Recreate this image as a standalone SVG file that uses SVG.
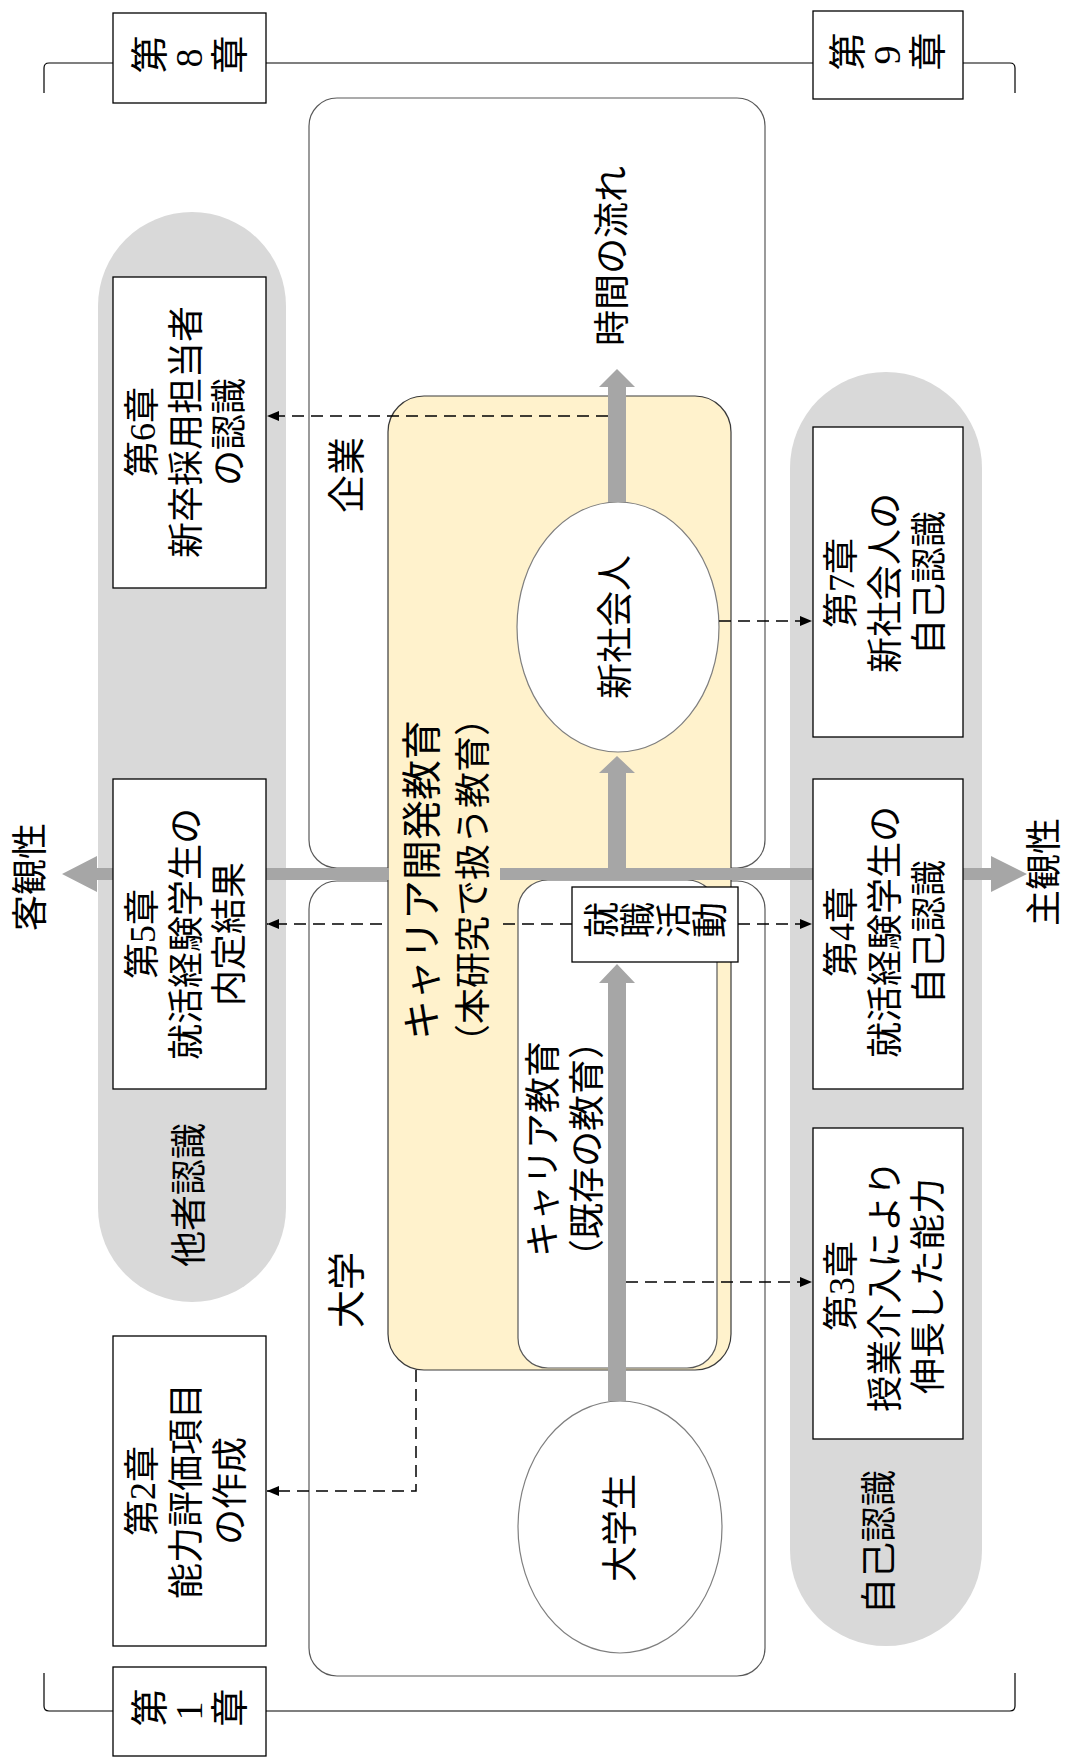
<svg xmlns="http://www.w3.org/2000/svg" width="1068" height="1757" viewBox="0 0 1068 1757">
<defs>
<style>
.t{font-family:"Liberation Serif","Noto Sans CJK JP",serif;font-size:36px;fill:#000}
.r{text-anchor:middle;dominant-baseline:central}
.v{writing-mode:vertical-rl;text-orientation:upright;text-anchor:middle}
.pill{fill:#D9D9D9}
.box{fill:#fff;stroke:#000;stroke-width:1.3}
.area{fill:#fff;stroke:#595959;stroke-width:1.2}
.yel{fill:#FFF2CC;stroke:#3a3a3a;stroke-width:1.2}
.ell{fill:#fff;stroke:#7f7f7f;stroke-width:1.2}
.gray{fill:#A6A6A6}
.dash{fill:none;stroke:#000;stroke-width:1.5;stroke-dasharray:12 7}
.brk{fill:none;stroke:#000;stroke-width:1.2}
</style>
<marker id="ah" markerUnits="userSpaceOnUse" markerWidth="12" markerHeight="10" refX="12" refY="5" orient="auto">
<path d="M0,0 L12,5 L0,10 Z" fill="#000"/>
</marker>
</defs>
<rect width="1068" height="1757" fill="#fff"/>

<g id="brackets">
<path class="brk" d="M44,93 L44,68 Q44,63 49,63 L1010,63 Q1015,63 1015,68 L1015,93"/>
<path class="brk" d="M44,1673 L44,1706 Q44,1711 49,1711 L1010,1711 Q1015,1711 1015,1706 L1015,1673"/>
</g>

<g id="other-recognition">
<rect class="pill" x="98" y="212" width="188" height="1090" rx="94"/>
<text class="t r" transform="translate(190,1195) rotate(-90)">他者認識</text>
</g>
<g id="self-recognition">
<rect class="pill" x="790" y="372" width="192" height="1274" rx="96"/>
<text class="t r" transform="translate(880,1542) rotate(-90)">自己認識</text>
</g>

<g id="company">
<rect class="area" x="309" y="98" width="456" height="770" rx="28"/>
<text class="t r" style="font-size:38px" transform="translate(347,475) rotate(-90)">企業</text>
</g>
<g id="university">
<rect class="area" x="309" y="881" width="456" height="795" rx="28"/>
<text class="t r" style="font-size:38px" transform="translate(347,1290) rotate(-90)">大学</text>
</g>

<g id="career-dev-education">
<rect class="yel" x="388" y="396" width="343" height="974" rx="36"/>
</g>
<g id="career-education">
<rect class="area" x="518" y="880" width="199" height="488" rx="30" stroke="#404040"/>
<text class="t r" transform="translate(566,1149) rotate(-90)"><tspan x="0" y="-22">キャリア教育</tspan><tspan x="0" y="22">（既存の教育）</tspan></text>
</g>

<g id="new-employee">
<ellipse class="ell" cx="618" cy="627" rx="101" ry="125"/>
<text class="t r" transform="translate(616,627) rotate(-90)">新社会人</text>
</g>
<g id="student">
<ellipse class="ell" cx="620" cy="1527" rx="102" ry="126"/>
<text class="t r" transform="translate(621,1528) rotate(-90)">大学生</text>
</g>

<g id="flows">
<polygon class="gray" points="62,874 97,856 97,868 991,868 991,856 1027,874 991,892 991,880 97,880 97,892"/>
<polygon class="gray" points="617,756 635,773 626,773 626,868 608,868 608,773 599,773"/>
<polygon class="gray" points="617,369 635,387 626,387 626,502 608,502 608,387 599,387"/>
<polygon class="gray" points="617,964 635,983 626,983 626,1401 608,1401 608,983 599,983"/>
</g>

<g id="ch6"><rect class="box" x="113" y="277" width="153" height="311"/>
<text class="t r" transform="translate(187,432) rotate(-90)"><tspan x="0" y="-44">第6章</tspan><tspan x="0" y="0">新卒採用担当者</tspan><tspan x="0" y="43">の認識</tspan></text></g>
<g id="ch5"><rect class="box" x="113" y="779" width="153" height="310"/>
<text class="t r" transform="translate(187,934) rotate(-90)"><tspan x="0" y="-44">第5章</tspan><tspan x="0" y="0">就活経験学生の</tspan><tspan x="0" y="43">内定結果</tspan></text></g>
<g id="ch2"><rect class="box" x="113" y="1336" width="153" height="310"/>
<text class="t r" transform="translate(187,1491) rotate(-90)"><tspan x="0" y="-44">第2章</tspan><tspan x="0" y="0">能力評価項目</tspan><tspan x="0" y="44">の作成</tspan></text></g>
<g id="ch7"><rect class="box" x="813" y="427" width="150" height="310"/>
<text class="t r" transform="translate(886,583) rotate(-90)"><tspan x="0" y="-44">第7章</tspan><tspan x="0" y="0">新社会人の</tspan><tspan x="0" y="44">自己認識</tspan></text></g>
<g id="ch4"><rect class="box" x="813" y="779" width="150" height="310"/>
<text class="t r" transform="translate(886,932) rotate(-90)"><tspan x="0" y="-44">第4章</tspan><tspan x="0" y="0">就活経験学生の</tspan><tspan x="0" y="44">自己認識</tspan></text></g>
<g id="ch3"><rect class="box" x="813" y="1128" width="150" height="311"/>
<text class="t r" transform="translate(886,1286) rotate(-90)"><tspan x="0" y="-44">第3章</tspan><tspan x="0" y="0">授業介入により</tspan><tspan x="0" y="43">伸長した能力</tspan></text></g>

<g id="ch8"><rect class="box" x="113" y="13" width="153" height="90"/>
<text class="t v" style="font-size:38px" transform="translate(189,58) rotate(-90)" x="0" y="0">第8章</text></g>
<g id="ch9"><rect class="box" x="813" y="11" width="150" height="88"/>
<text class="t v" style="font-size:38px" transform="translate(887,55) rotate(-90)" x="0" y="0">第9章</text></g>
<g id="ch1"><rect class="box" x="113" y="1667" width="153" height="89"/>
<text class="t v" style="font-size:38px" transform="translate(189,1711) rotate(-90)" x="0" y="0">第1章</text></g>

<g id="job-hunting"><rect class="box" x="572" y="887" width="166" height="75"/>
<text class="t v" transform="translate(655,924) rotate(-90)" x="0" y="0">就職活動</text></g>

<g id="connectors">
<path class="dash" d="M608,416 H267" marker-end="url(#ah)"/>
<path class="dash" d="M572,924 H267" marker-end="url(#ah)"/>
<path class="dash" d="M738,924 H812" marker-end="url(#ah)"/>
<path class="dash" d="M719,621 H812" marker-end="url(#ah)"/>
<path class="dash" d="M626,1282 H812" marker-end="url(#ah)"/>
<path class="dash" d="M416,1370 V1491 H267" marker-end="url(#ah)"/>
</g>

<g id="career-dev-label">
<rect x="389" y="700" width="111" height="350" fill="#FFF2CC"/>
<text class="t r" transform="translate(448,880) rotate(-90)"><tspan x="0" y="-26" style="font-size:40px">キャリア開発教育</tspan><tspan x="0" y="26">（本研究で扱う教育）</tspan></text>
</g>

<g id="axis-labels">
<text class="t r" transform="translate(31,877) rotate(-90)">客観性</text>
<text class="t r" transform="translate(1045,872) rotate(-90)">主観性</text>
<text class="t r" transform="translate(613,256) rotate(-90)">時間の流れ</text>
</g>
</svg>
